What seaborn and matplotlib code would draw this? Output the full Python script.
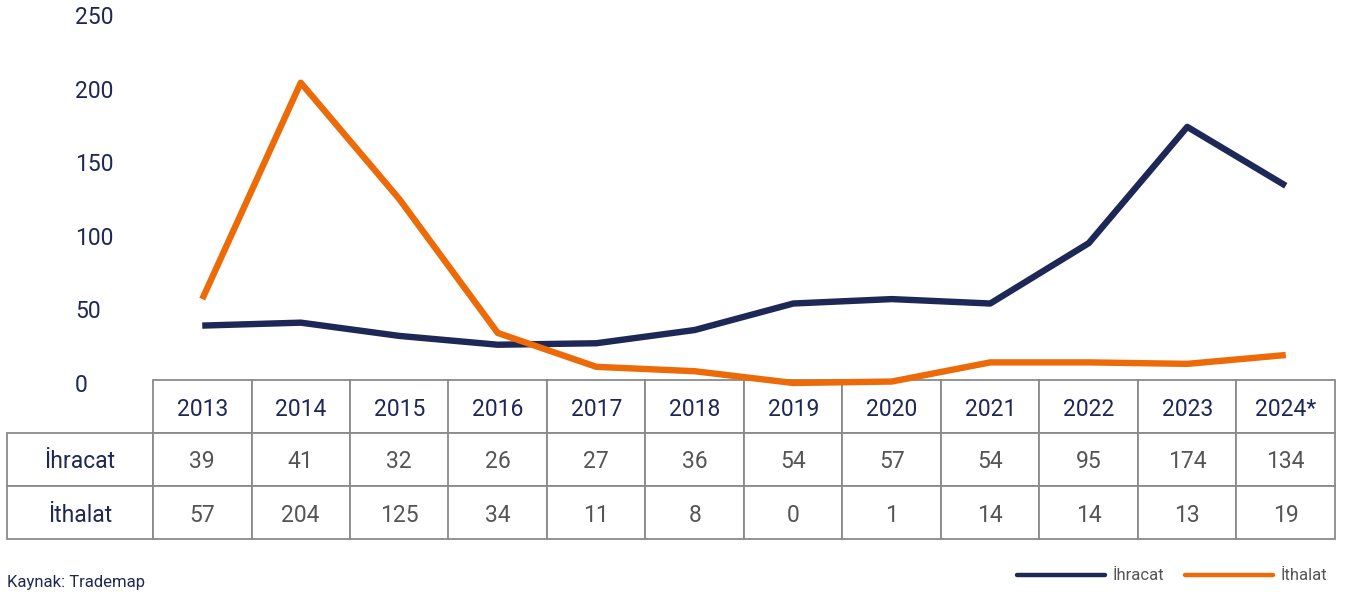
import pandas as pd
import matplotlib
matplotlib.use('Agg')
import matplotlib.pyplot as plt
import seaborn as sns

years = ['2013', '2014', '2015', '2016', '2017', '2018', '2019', '2020', '2021', '2022', '2023', '2024*']
ihracat = [39, 41, 32, 26, 27, 36, 54, 57, 54, 95, 174, 134]
ithalat = [57, 204, 125, 34, 11, 8, 0, 1, 14, 14, 13, 19]
series_names = ['İhracat', 'İthalat']

navy = '#1e2857'
orange = '#ec6a08'
grey = '#555555'

sns.set_style('white')
plt.rcParams['font.family'] = ['Roboto', 'DejaVu Sans']

df = pd.DataFrame({
    'yil': list(range(len(years))) * 2,
    'deger': ihracat + ithalat,
    'seri': [series_names[0]] * len(years) + [series_names[1]] * len(years),
})

W, H = 1363, 601
fig = plt.figure(figsize=(W / 100, H / 100), dpi=100)
ax = fig.add_axes([153 / W, (H - 383) / H, 1182 / W, 368 / H])
ax.set_zorder(3)
ax.patch.set_visible(False)

sns.lineplot(data=df, x='yil', y='deger', hue='seri', palette=[navy, orange],
             linewidth=4.6, ax=ax, legend=False, clip_on=False,
             solid_capstyle='butt', solid_joinstyle='round')
ax.set_xlim(-0.5, len(years) - 0.5)
ax.set_ylim(0, 250)
ax.set_yticks([0, 50, 100, 150, 200, 250])
ax.set_xticks([])
ax.set_xlabel('')
ax.set_ylabel('')
ax.tick_params(axis='y', length=0, pad=56, labelsize=16.5, labelcolor=navy)
for lab in ax.get_yticklabels():
    lab.set_ha('left')
sns.despine(ax=ax, left=True, bottom=True)

# table
tax = fig.add_axes([7 / W, (H - 539) / H, 1328 / W, 159 / H])
tax.axis('off')
rows = [[series_names[0]] + [str(v) for v in ihracat],
        [series_names[1]] + [str(v) for v in ithalat]]
widths = [146] + [1182 / len(years)] * len(years)
tbl = tax.table(cellText=rows, colLabels=[''] + years, colWidths=[w / 1328 for w in widths],
                bbox=[0, 0, 1, 1], cellLoc='center')
tbl.auto_set_font_size(False)
for (r, c), cell in tbl.get_celld().items():
    cell.set_edgecolor('#8a8a8a')
    cell.set_linewidth(1.3)
    cell.set_facecolor('white')
    txt = cell.get_text()
    txt.set_fontsize(16.5)
    txt.set_va('center_baseline')
    if r == 0 or c == 0:
        txt.set_color(navy)
    else:
        txt.set_color(grey)
    if r == 0 and c == 0:
        cell.visible_edges = ''

# legend
handles = [plt.Line2D([], [], color=navy, lw=3.2, solid_capstyle='round'),
           plt.Line2D([], [], color=orange, lw=3.2, solid_capstyle='round')]
fig.legend(handles, series_names, loc='center right', bbox_to_anchor=(1342 / W, 1 - 576 / H),
           ncol=2, frameon=False, handlelength=5.3, handletextpad=0.45, columnspacing=1.2,
           prop={'size': 12}, labelcolor=grey)

fig.text(7 / W, 1 - 583 / H, 'Kaynak: Trademap', fontsize=12, color=navy, va='center', ha='left')

fig.savefig('out.png', dpi=100)
